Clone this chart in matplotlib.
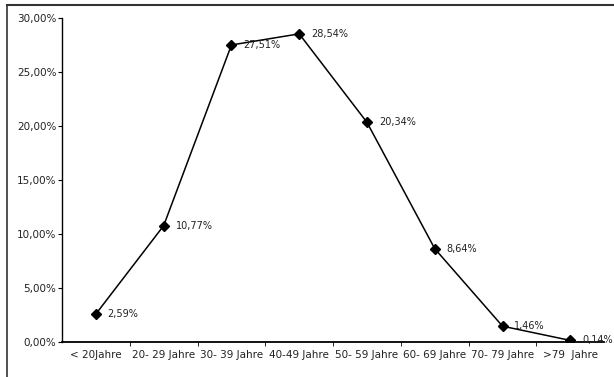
import matplotlib
matplotlib.use("Agg")
import matplotlib.pyplot as plot
from matplotlib.lines import Line2D

# data #########################################################################

categories = ["< 20Jahre", "20- 29 Jahre", "30- 39 Jahre", "40-49 Jahre",
              "50- 59 Jahre", "60- 69 Jahre", "70- 79 Jahre", ">79  Jahre"]
shares = [2.59, 10.77, 27.51, 28.54, 20.34, 8.64, 1.46, 0.14]
yTicks = [0, 5, 10, 15, 20, 25, 30]

################################################################################

def pct(v):
  return ("%.2f%%" % v).replace(".", ",")

figure = plot.figure(figsize = (6.14, 3.77), dpi = 100)
ax = figure.add_axes([0.101, 0.093, 0.883, 0.859])

x = list(range(len(shares)))
ax.plot(x, shares, color = "black", linewidth = 1.1, marker = "D",
        markersize = 5.5, zorder = 3)

for xi, v in zip(x, shares):
  ax.annotate(pct(v), (xi, v), xytext = (8.5, 0), textcoords = "offset points",
              va = "center", ha = "left", fontsize = 7, color = "#222222")

ax.set_xlim(-0.5, 7.5)
ax.set_ylim(0, 30)
ax.set_yticks(yTicks)
ax.set_yticklabels([pct(t) for t in yTicks], fontsize = 7.5, color = "#222222")
ax.set_xticks(x)
ax.set_xticklabels(categories, fontsize = 7.5, color = "#222222")
ax.set_xticks([i + 0.5 for i in range(len(shares) - 1)], minor = True)
ax.tick_params(axis = "x", which = "major", length = 0, pad = 6)
ax.tick_params(axis = "x", which = "minor", length = 3, direction = "out")
ax.tick_params(axis = "y", length = 3, pad = 1)

ax.spines["right"].set_visible(False)
ax.spines["top"].set_visible(False)
ax.spines["left"].set_linewidth(1.0)
ax.spines["bottom"].set_linewidth(1.3)

# outer frame (cropped at right and bottom)
figure.add_artist(Line2D([7 / 614, 7 / 614], [0, 372 / 377], color = "#333333",
                         linewidth = 1.2, transform = figure.transFigure))
figure.add_artist(Line2D([7 / 614, 1], [372 / 377, 372 / 377], color = "#333333",
                         linewidth = 1.5, transform = figure.transFigure))

figure.savefig("out.png", dpi = 100)
plot.close()
